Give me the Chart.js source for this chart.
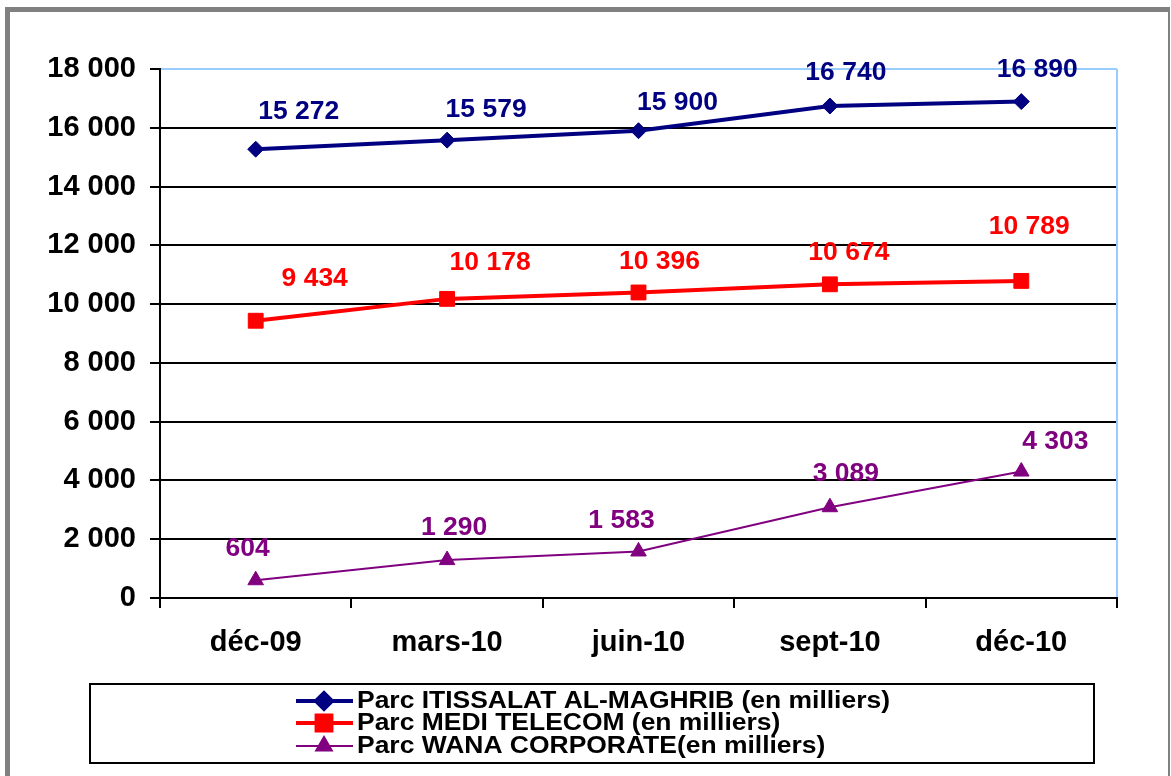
<!DOCTYPE html>
<html>
<head>
<meta charset="utf-8">
<script src="https://cdn.jsdelivr.net/npm/chart.js@4.4.0/dist/chart.umd.min.js"></script>
<style>
  html, body { margin: 0; padding: 0; background: #fff; }
  #wrap { position: relative; width: 1171px; height: 776px; }
</style>
</head>
<body>
<div id="wrap"><canvas id="parc" width="1171" height="776"></canvas></div>
<script>
// data
const categories = ["déc-09", "mars-10", "juin-10", "sept-10", "déc-10"];
const iam  = [15272, 15579, 15900, 16740, 16890];
const medi = [9434, 10178, 10396, 10674, 10789];
const wana = [604, 1290, 1583, 3089, 4303];
const seriesNames = [
  "Parc ITISSALAT AL-MAGHRIB (en milliers)",
  "Parc MEDI TELECOM (en milliers)",
  "Parc WANA CORPORATE(en milliers)"
];
const yTicks = [0, 2000, 4000, 6000, 8000, 10000, 12000, 14000, 16000, 18000];

// where each value label sits relative to its point (px)
const labelShift = [
  [[43, -37], [39, -30], [39, -28], [16, -33], [16, -32]],
  [[59, -42], [43, -36], [21, -30], [19, -31], [8, -54]],
  [[-8, -31], [7, -32], [-17, -30], [16, -33], [34, -29]]
];

function fmt(v) {
  return String(v).replace(/\B(?=(\d{3})+(?!\d))/g, " ");
}

const FONT = "'Liberation Sans', Arial, sans-serif";

// text a bit wider than the font, like the original export
function wideText(ctx, txt, x, y, sx) {
  ctx.save();
  ctx.translate(x, y);
  ctx.scale(sx, 1);
  ctx.fillText(txt, 0, 0);
  ctx.restore();
}

const framePlugin = {
  id: "frame",
  beforeDraw(chart) {
    const ctx = chart.ctx;
    ctx.save();
    ctx.fillStyle = "#fff";
    ctx.fillRect(0, 0, chart.width, chart.height);
    ctx.fillStyle = "#808080";
    ctx.fillRect(5, 7, 1165, 5);   // top
    ctx.fillRect(5, 7, 5, 769);    // left
    ctx.fillRect(1168, 7, 2, 769); // right
    ctx.restore();
  },
  afterDraw(chart) {
    const ctx = chart.ctx;
    const a = chart.chartArea;
    ctx.save();
    // light blue right border of the plot
    ctx.strokeStyle = "#99CCFF";
    ctx.lineWidth = 2;
    ctx.beginPath();
    ctx.moveTo(a.right, a.top);
    ctx.lineTo(a.right, a.bottom);
    ctx.stroke();
    // last x tick
    ctx.strokeStyle = "#000";
    ctx.beginPath();
    ctx.moveTo(a.right, a.bottom - 1);
    ctx.lineTo(a.right, a.bottom + 10);
    ctx.stroke();

    // legend box
    ctx.lineWidth = 2;
    ctx.strokeRect(90, 684, 1004, 79);
    const rows = [701, 723, 746];
    chart.data.datasets.forEach((ds, i) => {
      const y = rows[i];
      ctx.strokeStyle = ds.borderColor;
      ctx.lineWidth = ds.borderWidth;
      ctx.beginPath();
      ctx.moveTo(296, y);
      ctx.lineTo(353, y);
      ctx.stroke();
      Chart.helpers.drawPoint(ctx, {
        pointStyle: ds.pointStyle, radius: ds.pointRadius, borderWidth: 1
      }, 324, y);
      ctx.fillStyle = ds.backgroundColor;
      ctx.fill();
      ctx.fillStyle = "#000";
      ctx.font = "bold 23px " + FONT;
      ctx.textAlign = "left";
      ctx.textBaseline = "middle";
      wideText(ctx, seriesNames[i], 357, y + 1, 1.15);
    });
    ctx.restore();
  },
  afterDatasetsDraw(chart) {
    const ctx = chart.ctx;
    ctx.save();
    ctx.font = "bold 25px " + FONT;
    ctx.textAlign = "center";
    ctx.textBaseline = "middle";
    chart.data.datasets.forEach((ds, i) => {
      const meta = chart.getDatasetMeta(i);
      ctx.fillStyle = ds.borderColor;
      meta.data.forEach((pt, j) => {
        const s = labelShift[i][j];
        wideText(ctx, fmt(ds.data[j]), pt.x + s[0], pt.y + s[1], 1.06);
      });
    });
    ctx.restore();
  }
};

const data = {
  labels: categories,
  datasets: [
    {
      label: seriesNames[0], data: iam,
      borderColor: "#000080", backgroundColor: "#000080",
      borderWidth: 4, pointStyle: "rectRot", pointRadius: 8,
      pointBorderWidth: 1, tension: 0
    },
    {
      label: seriesNames[1], data: medi,
      borderColor: "#FF0000", backgroundColor: "#FF0000",
      borderWidth: 4, pointStyle: "rect", pointRadius: 10.5,
      pointBorderWidth: 1, tension: 0
    },
    {
      label: seriesNames[2], data: wana,
      borderColor: "#800080", backgroundColor: "#800080",
      borderWidth: 2, pointStyle: "triangle", pointRadius: 9,
      pointBorderWidth: 1, tension: 0
    }
  ]
};

const config = {
  type: "line",
  data: data,
  options: {
    responsive: false,
    animation: false,
    devicePixelRatio: 1,
    layout: { padding: { left: 0, top: 69, right: 54, bottom: 0 } },
    plugins: { legend: { display: false }, tooltip: { enabled: false } },
    scales: {
      x: {
        offset: true,
        grid: {
          offset: true, drawOnChartArea: false, drawTicks: true,
          tickLength: 10, color: "#000", lineWidth: 2
        },
        border: { color: "#000", width: 2 },
        ticks: {
          color: "#000", font: { family: FONT, size: 29, weight: "bold" },
          padding: 18, maxRotation: 0
        },
        afterFit(scale) { scale.height = 178; }
      },
      y: {
        min: 0, max: 18000,
        afterBuildTicks(scale) { scale.ticks = yTicks.map(v => ({ value: v })); },
        grid: {
          color: ctx => (ctx.tick && ctx.tick.value === 18000 ? "#99CCFF" : "#000"),
          tickColor: "#000", lineWidth: 2, tickLength: 10
        },
        border: { color: "#000", width: 2 },
        ticks: {
          color: "#000", font: { family: FONT, size: 29, weight: "bold" },
          padding: 14, callback: v => fmt(v)
        },
        afterFit(scale) { scale.width = 160; }
      }
    }
  },
  plugins: [framePlugin]
};

let parcChart = new Chart(document.getElementById("parc").getContext("2d"), config);
</script>
</body>
</html>
